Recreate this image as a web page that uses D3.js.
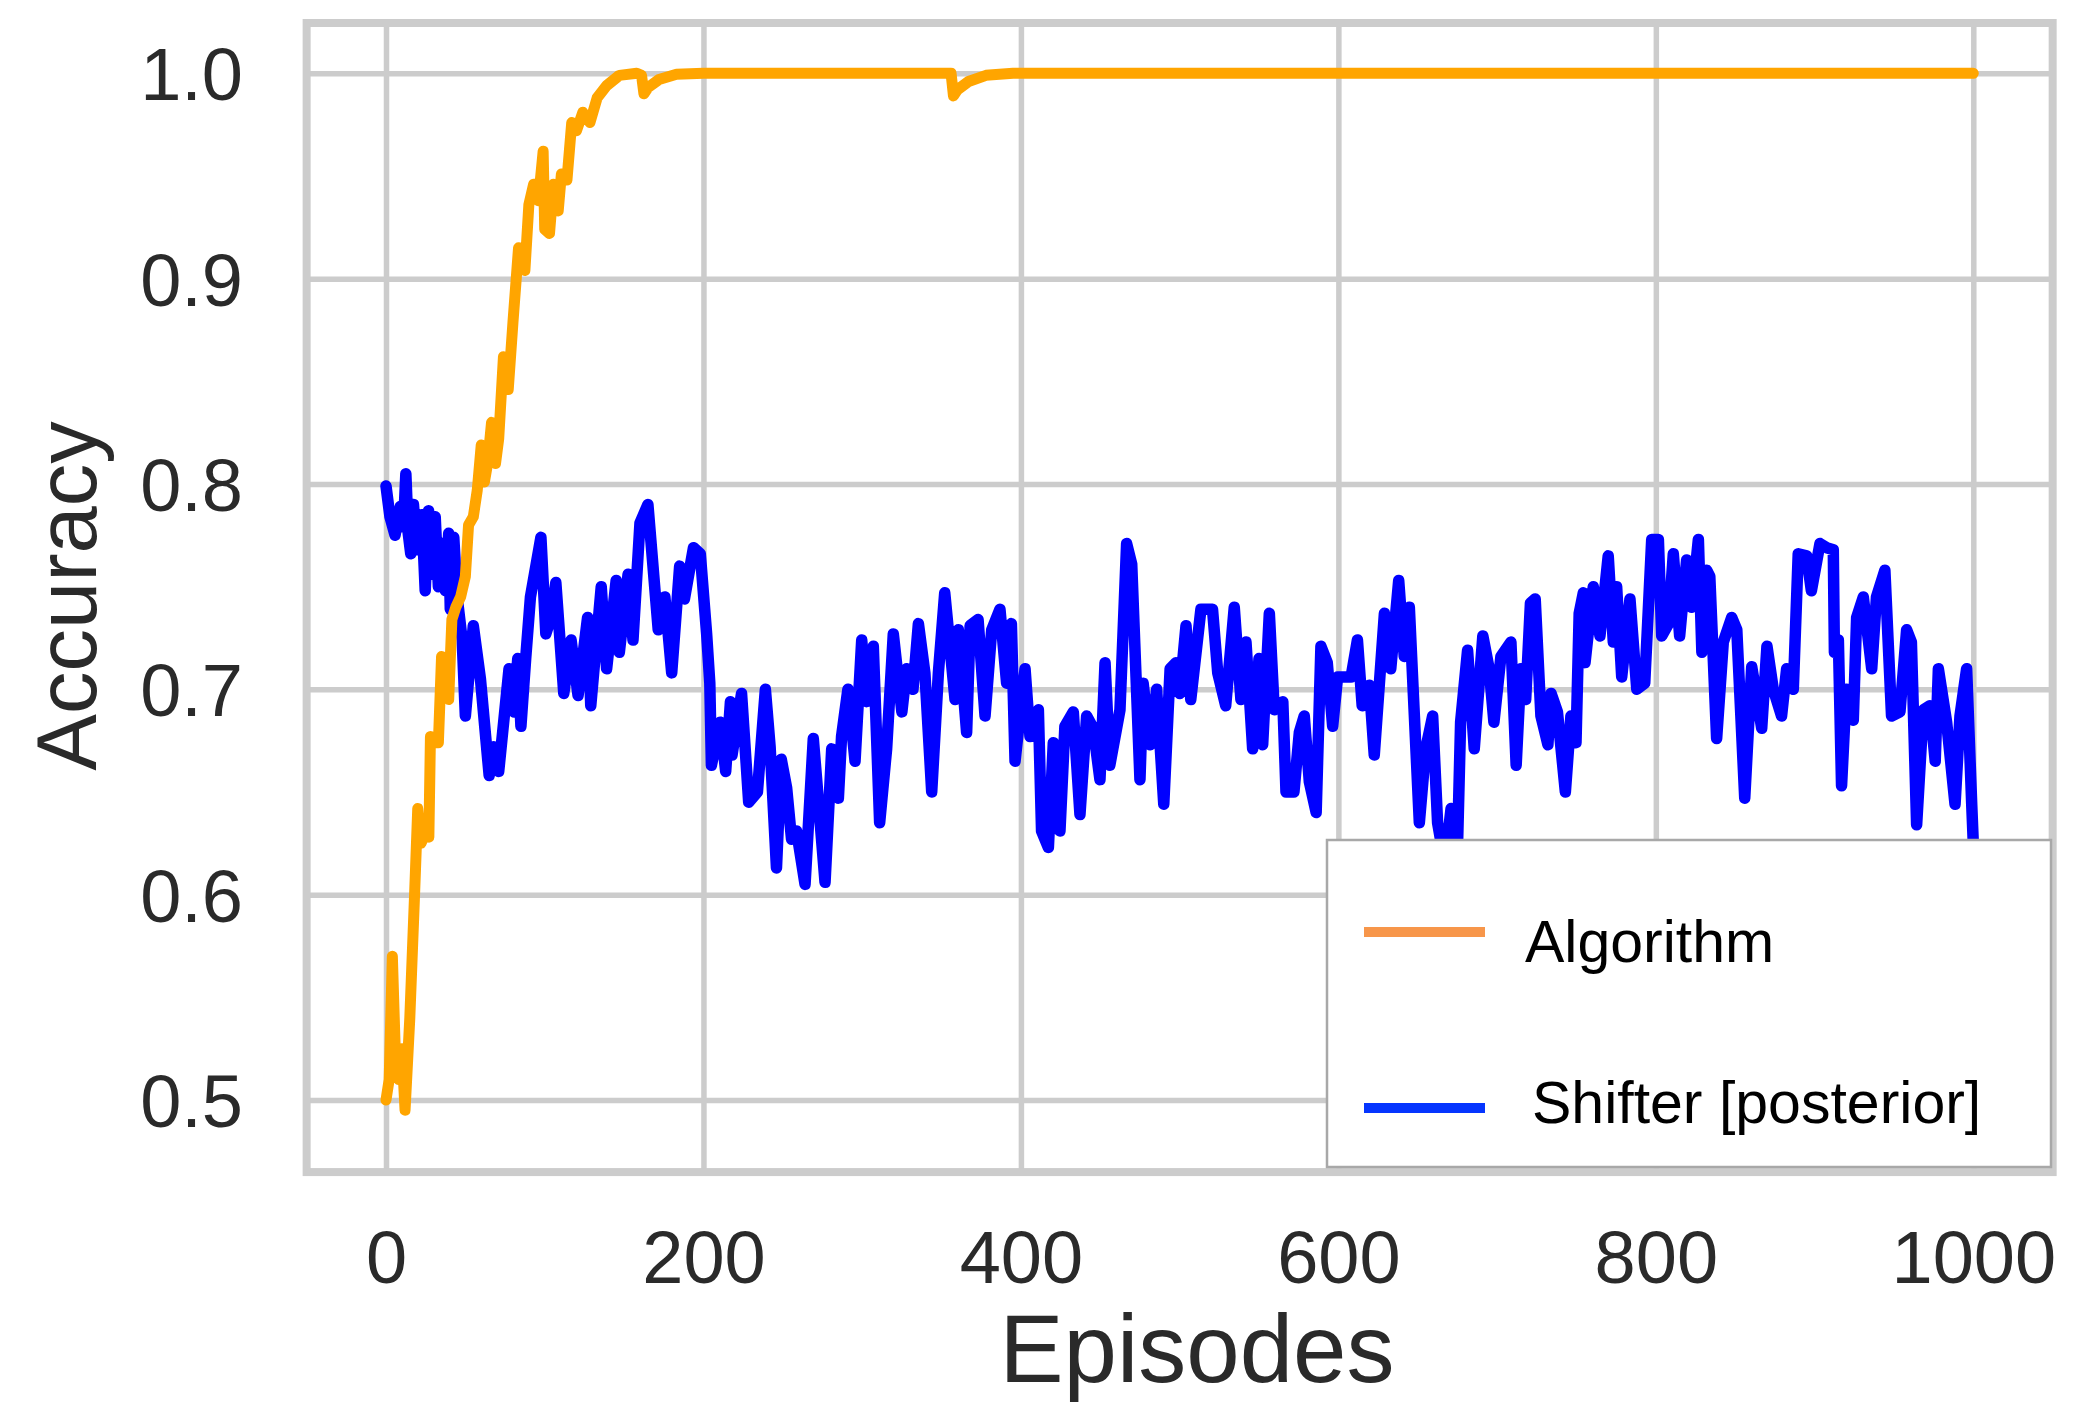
<!DOCTYPE html>
<html><head><meta charset="utf-8">
<script src="https://cdn.jsdelivr.net/npm/d3@7/dist/d3.min.js"></script>
<style>html,body{margin:0;padding:0;background:#fff;}svg{display:block;}</style>
</head><body>
<svg id="chart" width="2075" height="1403"></svg>
<script>
const seriesNames = ["Algorithm", "Shifter [posterior]"];
const xTickValues = [0, 200, 400, 600, 800, 1000];
const xTickLabels = ["0", "200", "400", "600", "800", "1000"];
const yTickValues = [0.5, 0.6, 0.7, 0.8, 0.9, 1.0];
const yTickLabels = ["0.5", "0.6", "0.7", "0.8", "0.9", "1.0"];
const xLimits = [-50, 1050];
const yLimits = [0.4649, 1.0245];

const algoEpisodes = [0,2,4,6,8,10,12,15,18,20,22,25,27,28,31,33,35,37,39.5,41.5,44,47,50,52,55,57.5,60,62,64,66.5,69,71,74,77,80,83.5,87.5,90,93,96,99,100,103,105.5,108.5,110.5,114,117,120,124,128.5,133,139,147,158,161,162.5,165,172,183,200,356,357.5,360,367,378,395,1000];
const algoAccuracy = [0.500,0.510,0.570,0.520,0.510,0.525,0.495,0.540,0.600,0.642,0.625,0.630,0.628,0.677,0.674,0.674,0.716,0.700,0.695,0.734,0.740,0.745,0.755,0.780,0.784,0.797,0.819,0.801,0.810,0.830,0.810,0.822,0.862,0.846,0.879,0.915,0.904,0.936,0.946,0.938,0.962,0.924,0.922,0.946,0.933,0.951,0.948,0.976,0.972,0.981,0.976,0.988,0.994,0.999,1.000,0.999,0.990,0.993,0.997,0.9995,1.000,1.000,0.989,0.992,0.996,0.999,1.000,1.000];

const shifterEpisodes = [0,2.5,5.7,9,11,12.5,14,15.6,17.3,19.4,22.6,24.7,26.8,29,31,33,35.3,37.4,39.5,40.5,42.7,44.8,48,50,55,59.5,65,68,71,77.5,80.7,83,85,88,91,97.6,100.7,104,107,112,116.6,121,127,129,135.6,139,145,147,152.5,155.6,160,165,171.5,175.7,180,185,188,193.7,198,202,204,205,210.6,214,217,218,224,228.5,234,239,242,246,249,252.4,255.5,258.7,264,269.2,276.6,280.8,285,287,291,295.5,299.7,302.8,307,311,315.4,319.6,325,328,332,335.4,339.5,343.8,348,352,358.5,360.6,365.8,368,373,377.4,381.6,386.8,391,394,396.3,402.6,405.7,411,413,417.3,420.4,424.6,427.7,433,437.2,441.4,445.6,449.8,453,456,462.4,466.6,469.8,475,477,481.3,485.5,490,494,497.7,500,504,507,513.4,520.7,524,529,534.4,538.6,541.8,546,550,552.3,556.5,559.6,565,567,572,575.4,578.5,581.7,586,589,593,596.4,599.5,608,612,615,619.5,622.6,629,633,638,641.5,644.7,651,655,659.4,662.5,667,671,675,677,681.4,685.6,691,695,698,702.4,708.7,712,715,718,721,724,727.6,732,734,738,743,746.5,749.7,751.7,754.3,755.4,760.6,764.8,770,773.2,775.3,778.5,783.7,788,793,797.4,801.6,803.7,808,811,815,819.4,822.5,826.8,829,832,834,838.3,842.5,847.8,851,856,860.4,866.7,870,874,879.2,882.4,886.6,889.7,895,898,903.4,907.6,911.8,912.5,915,917,920,924.4,926.5,930.7,936,939,944.3,948.5,953.8,958,961,964.3,968.5,972.7,976,978,983.2,988.5,991.6,995.8,999,1000];
const shifterAccuracy = [0.799,0.784,0.775,0.789,0.779,0.805,0.776,0.766,0.790,0.768,0.785,0.748,0.787,0.756,0.784,0.750,0.771,0.748,0.776,0.739,0.774,0.745,0.724,0.687,0.731,0.705,0.658,0.672,0.660,0.710,0.689,0.715,0.682,0.715,0.745,0.774,0.727,0.735,0.752,0.698,0.724,0.697,0.735,0.692,0.750,0.710,0.753,0.718,0.756,0.724,0.781,0.790,0.729,0.745,0.708,0.760,0.744,0.769,0.766,0.727,0.703,0.663,0.684,0.660,0.694,0.668,0.698,0.645,0.650,0.700,0.672,0.613,0.666,0.652,0.627,0.631,0.605,0.676,0.606,0.671,0.647,0.677,0.700,0.665,0.724,0.694,0.721,0.635,0.671,0.727,0.689,0.710,0.700,0.732,0.708,0.650,0.708,0.747,0.695,0.729,0.679,0.731,0.734,0.687,0.729,0.739,0.703,0.732,0.665,0.710,0.677,0.690,0.631,0.623,0.674,0.631,0.682,0.689,0.639,0.687,0.681,0.656,0.713,0.663,0.690,0.771,0.761,0.656,0.703,0.673,0.700,0.644,0.710,0.713,0.698,0.731,0.695,0.739,0.739,0.708,0.692,0.740,0.695,0.723,0.671,0.715,0.673,0.737,0.690,0.694,0.650,0.650,0.679,0.687,0.655,0.640,0.721,0.713,0.682,0.706,0.706,0.724,0.692,0.702,0.668,0.737,0.710,0.753,0.716,0.740,0.635,0.671,0.687,0.635,0.615,0.642,0.622,0.684,0.719,0.671,0.726,0.710,0.684,0.716,0.723,0.663,0.710,0.695,0.742,0.744,0.687,0.673,0.698,0.689,0.650,0.687,0.674,0.737,0.747,0.713,0.750,0.726,0.765,0.723,0.750,0.706,0.744,0.700,0.703,0.773,0.773,0.726,0.732,0.766,0.726,0.763,0.740,0.773,0.718,0.758,0.755,0.676,0.723,0.735,0.729,0.647,0.711,0.681,0.721,0.700,0.687,0.710,0.700,0.766,0.765,0.748,0.771,0.769,0.768,0.718,0.724,0.653,0.700,0.685,0.735,0.745,0.710,0.745,0.758,0.687,0.689,0.729,0.723,0.634,0.690,0.692,0.665,0.710,0.684,0.644,0.687,0.710,0.644,0.625];

const svg = d3.select("#chart");
svg.append("rect").attr("width", 2075).attr("height", 1403).attr("fill", "#ffffff");

const x = d3.scaleLinear().domain([0, 1000]).range([386, 1973.3]);
const y = d3.scaleLinear().domain([0.5, 1.0]).range([1100, 73.3]);

const plotLeft = x(xLimits[0]), plotRight = x(xLimits[1]);
const plotTop = y(yLimits[1]), plotBottom = y(yLimits[0]);
const font = "'Liberation Sans', Arial, Helvetica, sans-serif";
const gridColor = "#cccccc";

// x axis with grid
const xAxis = svg.append("g").attr("transform", `translate(0,${plotBottom})`)
  .call(d3.axisBottom(x).tickValues(xTickValues).tickFormat((d, i) => xTickLabels[i])
    .tickSize(-(plotBottom - plotTop)).tickPadding(0));
xAxis.select(".domain").remove();
xAxis.selectAll(".tick line").attr("stroke", gridColor).attr("stroke-width", 5.5);
xAxis.selectAll(".tick text").attr("y", 111).attr("dy", null)
  .attr("fill", "#2a2a2a").style("font-family", font).style("font-size", "74px");

// y axis with grid
const yAxis = svg.append("g").attr("transform", `translate(${plotLeft},0)`)
  .call(d3.axisLeft(y).tickValues(yTickValues).tickFormat((d, i) => yTickLabels[i])
    .tickSize(-(plotRight - plotLeft)).tickPadding(0));
yAxis.select(".domain").remove();
yAxis.selectAll(".tick line").attr("stroke", gridColor).attr("stroke-width", 5.5);
yAxis.selectAll(".tick text").attr("x", -(plotLeft - 243)).attr("dy", "0.36em")
  .attr("fill", "#2a2a2a").style("font-family", font).style("font-size", "74px");

// frame
svg.append("rect").attr("x", plotLeft).attr("y", plotTop)
  .attr("width", plotRight - plotLeft).attr("height", plotBottom - plotTop)
  .attr("fill", "none").attr("stroke", gridColor).attr("stroke-width", 8);

// clip
svg.append("clipPath").attr("id", "plotclip").append("rect")
  .attr("x", plotLeft).attr("y", plotTop).attr("width", plotRight - plotLeft).attr("height", plotBottom - plotTop);

const line = d3.line().x(d => x(d[0])).y(d => y(d[1]));
const shifterData = shifterEpisodes.map((e, i) => [e, shifterAccuracy[i]]);
const algoData = algoEpisodes.map((e, i) => [e, algoAccuracy[i]]);

const lines = svg.append("g").attr("clip-path", "url(#plotclip)");
lines.append("path").datum(shifterData).attr("d", line)
  .attr("fill", "none").attr("stroke", "#0000ff").attr("stroke-width", 11.5)
  .attr("stroke-linejoin", "round").attr("stroke-linecap", "round");
lines.append("path").datum(algoData).attr("d", line)
  .attr("fill", "none").attr("stroke", "#ffa500").attr("stroke-width", 11)
  .attr("stroke-linejoin", "round").attr("stroke-linecap", "round");

// axis titles
svg.append("text").attr("x", 1197).attr("y", 1382).attr("text-anchor", "middle")
  .attr("fill", "#2a2a2a").style("font-family", font).style("font-size", "96px").text("Episodes");
svg.append("text").attr("transform", "translate(96,596) rotate(-90)").attr("text-anchor", "middle")
  .attr("fill", "#2a2a2a").style("font-family", font).style("font-size", "85px").text("Accuracy");

// legend
const legend = svg.append("g");
legend.append("rect").attr("x", 1327).attr("y", 840).attr("width", 724).attr("height", 327)
  .attr("fill", "#ffffff").attr("stroke", "#a8a8a8").attr("stroke-width", 2.5);
const legendColors = ["#f7964a", "#0535ff"];
const legendRows = [{ly: 932, ty: 962, tx: 1525}, {ly: 1108, ty: 1123, tx: 1532}];
seriesNames.forEach((name, i) => {
  legend.append("line").attr("x1", 1364).attr("x2", 1485).attr("y1", legendRows[i].ly).attr("y2", legendRows[i].ly)
    .attr("stroke", legendColors[i]).attr("stroke-width", 10);
  legend.append("text").attr("x", legendRows[i].tx).attr("y", legendRows[i].ty)
    .attr("fill", "#000000").style("font-family", font).style("font-size", "59px").text(name);
});
</script>
</body></html>
